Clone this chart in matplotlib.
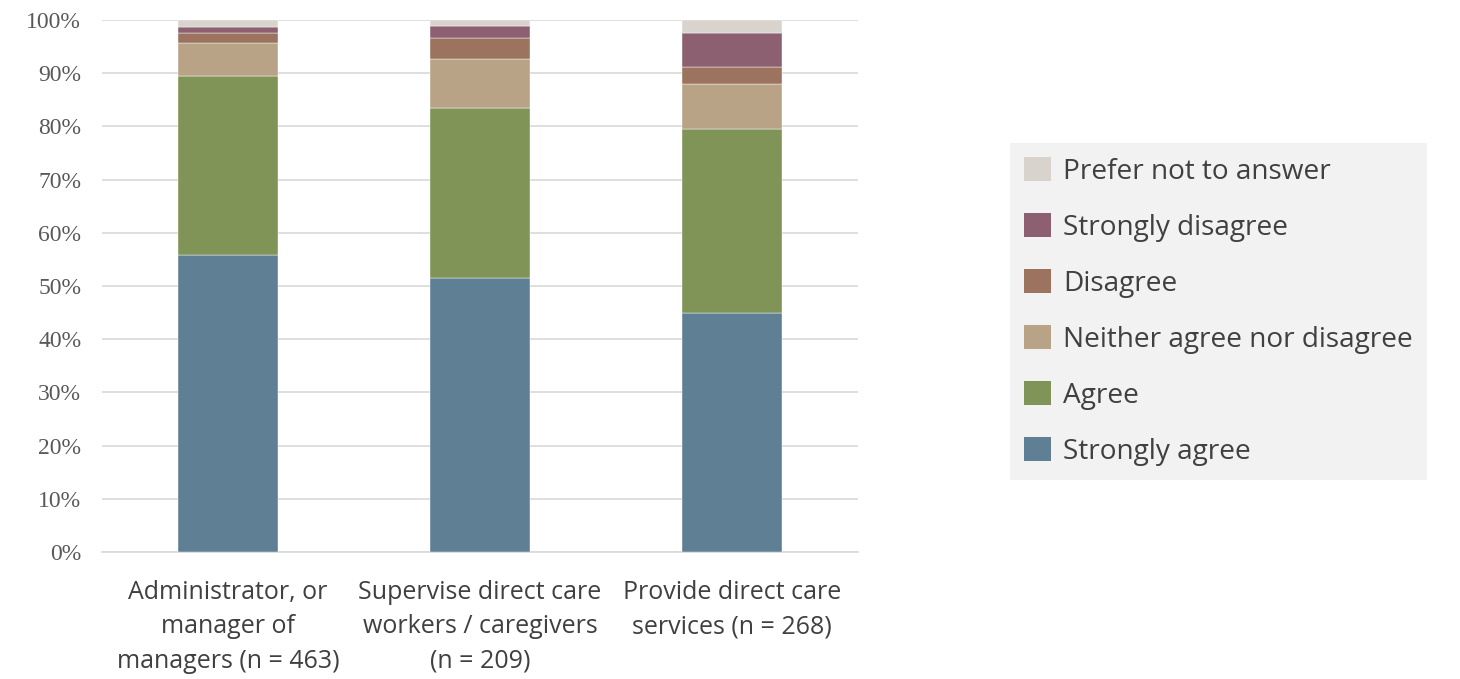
import numpy as np
import matplotlib.pyplot as plt
from matplotlib.patches import Patch

categorias = ["Administrator, or\nmanager of\nmanagers (n = 463)",
              "Supervise direct care\nworkers / caregivers\n(n = 209)",
              "Provide direct care\nservices (n = 268)"]
respostas = ["Strongly agree", "Agree", "Neither agree nor disagree",
             "Disagree", "Strongly disagree", "Prefer not to answer"]
strongly_agree = [55.8, 51.5, 44.9]
agree = [33.7, 32.0, 34.6]
neutral = [6.2, 9.2, 8.4]
disagree = [1.8, 3.9, 3.3]
strongly_disagree = [1.1, 2.3, 6.4]
prefer_not = [1.4, 1.1, 2.4]
cores = ["#5f7f94", "#7f9456", "#b9a386", "#9b735f", "#8c6070", "#d8d4cd"]

series = [strongly_agree, agree, neutral, disagree, strongly_disagree, prefer_not]

fig = plt.figure(figsize=(14.6, 6.79), dpi=100)
ax = fig.add_axes([102 / 1460, 1 - 552 / 679, 756 / 1460, 532 / 679])

x = np.arange(len(categorias))
base = np.zeros(len(categorias))
for vals, cor in zip(series, cores):
    ax.bar(x, vals, width=0.397, bottom=base, color=cor, edgecolor="white",
           linewidth=0.3, zorder=3)
    base += np.array(vals)

ax.set_xlim(-0.5, 2.5)
ax.set_ylim(0, 100)
ax.set_yticks(range(0, 101, 10))
ax.set_yticklabels([f"{v}%" for v in range(0, 101, 10)],
                   fontfamily="Liberation Serif", fontsize=17, color="#595959")
ax.set_xticks(x)
ax.set_xticklabels(categorias, fontfamily="Open Sans", fontsize=18, color="#404040",
                   linespacing=1.5)
ax.grid(axis="y", color="#d9d9d9", linewidth=1.2, zorder=0)
for s in ["top", "right", "left"]:
    ax.spines[s].set_visible(False)
ax.spines["bottom"].set_color("#d9d9d9")
ax.spines["bottom"].set_linewidth(1.2)
ax.tick_params(axis="y", length=0, pad=15)
ax.tick_params(axis="x", length=0, pad=20)

handles = [Patch(facecolor=c, label=r) for c, r in zip(cores, respostas)][::-1]
leg = fig.legend(handles=handles, loc="upper left", bbox_to_anchor=(1010 / 1460, 1 - 143 / 679),
                 frameon=True, fancybox=False, facecolor="#f2f2f2", edgecolor="none",
                 prop={"family": "Open Sans", "size": 20.2}, labelcolor="#404040",
                 handlelength=0.95, handleheight=0.95, handletextpad=0.45,
                 labelspacing=0.97, borderpad=0.5, borderaxespad=0)
leg.get_frame().set_alpha(1)

fig.savefig("out.png", dpi=100)
